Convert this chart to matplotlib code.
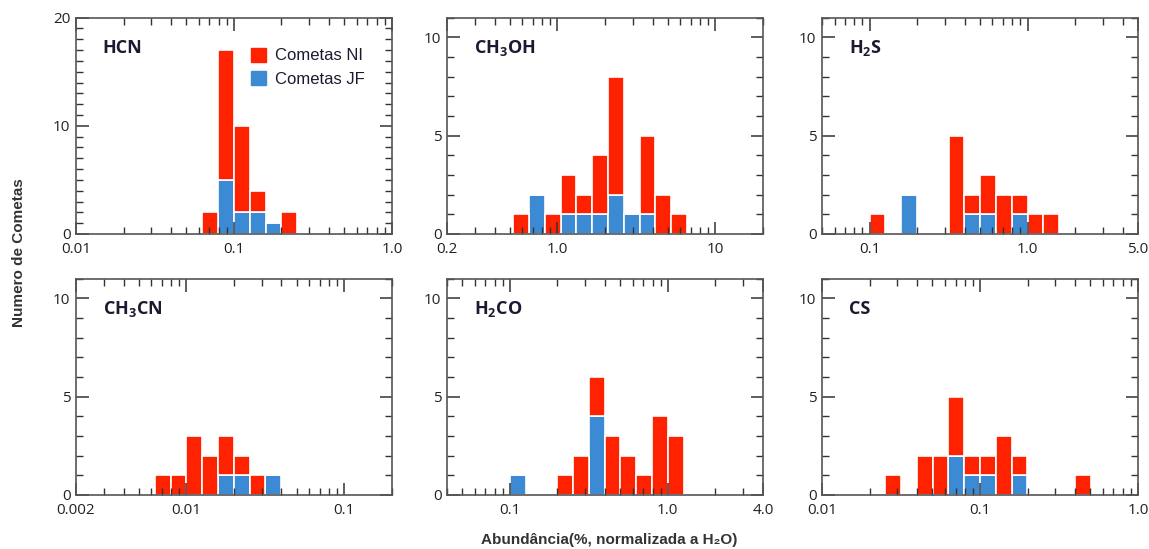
import numpy as np
import matplotlib
matplotlib.use("Agg")
import matplotlib.pyplot as plt
import matplotlib.ticker as ticker
from matplotlib.patches import Patch

plt.rcParams['font.family'] = ['Open Sans', 'DejaVu Sans']
plt.rcParams['mathtext.fontset'] = 'custom'
plt.rcParams['mathtext.rm'] = 'Open Sans:bold'
plt.rcParams['mathtext.it'] = 'Open Sans:bold'
plt.rcParams['mathtext.bf'] = 'Open Sans:bold'

RED = "#ff2200"
BLUE = "#3d8ad4"
EDGE = "#555555"

# bins are 0.1 dex wide, first left edge given as log10
names = ["HCN", "CH$_3$OH", "H$_2$S", "CH$_3$CN", "H$_2$CO", "CS"]
log_start = [-1.2, -0.28, -1.0, -2.2, -1.0, -1.6]

# total counts (NI + JF) and JF counts per bin
total_hcn = [2, 17, 10, 4, 1, 2]
jf_hcn = [0, 5, 2, 2, 1, 0]

total_ch3oh = [1, 2, 1, 3, 2, 4, 8, 1, 5, 2, 1]
jf_ch3oh = [0, 2, 0, 1, 1, 1, 2, 1, 1, 0, 0]

total_h2s = [1, 0, 2, 0, 0, 5, 2, 3, 2, 2, 1, 1]
jf_h2s = [0, 0, 2, 0, 0, 0, 1, 1, 0, 1, 0, 0]

total_ch3cn = [1, 1, 3, 2, 3, 2, 1, 1]
jf_ch3cn = [0, 0, 0, 0, 1, 1, 0, 1]

total_h2co = [1, 0, 0, 1, 2, 6, 3, 2, 1, 4, 3]
jf_h2co = [1, 0, 0, 0, 0, 4, 0, 0, 0, 0, 0]

total_cs = [1, 0, 2, 2, 5, 2, 2, 3, 2, 0, 0, 0, 1]
jf_cs = [0, 0, 0, 0, 2, 1, 1, 0, 1, 0, 0, 0, 0]

totals = [total_hcn, total_ch3oh, total_h2s, total_ch3cn, total_h2co, total_cs]
jfs = [jf_hcn, jf_ch3oh, jf_h2s, jf_ch3cn, jf_h2co, jf_cs]

xlims = [(0.01, 1.0), (0.2, 20), (0.05, 5.0), (0.002, 0.2), (0.04, 4.0), (0.01, 1.0)]
xticks = [[0.01, 0.1, 1.0], [0.2, 1.0, 10], [0.1, 1.0, 5.0],
          [0.002, 0.01, 0.1], [0.1, 1.0, 4.0], [0.01, 0.1, 1.0]]
xticklabels = [["0.01", "0.1", "1.0"], ["0.2", "1.0", "10"], ["0.1", "1.0", "5.0"],
               ["0.002", "0.01", "0.1"], ["0.1", "1.0", "4.0"], ["0.01", "0.1", "1.0"]]
ymax = [20, 11, 11, 11, 11, 11]
yticks = [[0, 10, 20], [0, 5, 10], [0, 5, 10], [0, 5, 10], [0, 5, 10], [0, 5, 10]]

fig = plt.figure(figsize=(11.49, 5.49), dpi=100)
lefts = [0.0661, 0.389, 0.7154]
bottoms = [0.5738, 0.0984]
w, h = 0.275, 0.394

for i in range(6):
    ax = fig.add_axes([lefts[i % 3], bottoms[i // 3], w, h])
    tot = np.array(totals[i])
    jf = np.array(jfs[i])
    ni = tot - jf
    edges = 10 ** (log_start[i] + 0.1 * np.arange(len(tot) + 1))
    widths = np.diff(edges)
    ax.bar(edges[:-1], jf, width=widths, align='edge', color=BLUE,
           edgecolor='white', linewidth=1.2)
    ax.bar(edges[:-1], ni, width=widths, bottom=jf, align='edge', color=RED,
           edgecolor='white', linewidth=1.2)
    ax.set_xscale('log')
    ax.set_xlim(*xlims[i])
    ax.set_ylim(0, ymax[i])
    ax.xaxis.set_major_locator(ticker.FixedLocator(xticks[i]))
    ax.xaxis.set_major_formatter(ticker.FixedFormatter(xticklabels[i]))
    ax.xaxis.set_minor_locator(ticker.LogLocator(base=10, subs=np.arange(2, 10)))
    ax.xaxis.set_minor_formatter(ticker.NullFormatter())
    ax.yaxis.set_major_locator(ticker.FixedLocator(yticks[i]))
    ax.yaxis.set_minor_locator(ticker.MultipleLocator(1))
    ax.tick_params(which='both', direction='in', top=True, right=True,
                   color='#333333', labelsize=11, labelcolor='#222222')
    ax.tick_params(which='major', length=9, width=1.1)
    ax.tick_params(which='minor', length=5, width=1.0)
    ax.tick_params(axis='x', which='major', pad=6)
    ax.tick_params(axis='y', which='major', pad=4)
    for s in ax.spines.values():
        s.set_color(EDGE)
        s.set_linewidth(1.2)
    ax.text(0.085, 0.86, names[i], transform=ax.transAxes, fontsize=13,
            fontweight='bold', color='#1a1a30', va='center', ha='left')
    if i == 0:
        handles = [Patch(color=RED, label='Cometas NI'),
                   Patch(color=BLUE, label='Cometas JF')]
        ax.legend(handles=handles, loc='upper right', bbox_to_anchor=(0.96, 0.93),
                  frameon=False, prop={'family': ['Liberation Sans', 'DejaVu Sans'], 'size': 12},
                  handlelength=0.9, handleheight=0.9, handletextpad=0.5,
                  labelspacing=0.45, labelcolor='#1a1a30')

fig.text(0.0165, 0.54, "Numero de Cometas", rotation=90, ha='center', va='center',
         fontsize=11, fontweight='bold', color='#333333',
         family=['Liberation Sans', 'DejaVu Sans'])
fig.text(0.53, 0.016, "Abundância(%, normalizada a H₂O)", ha='center', va='center',
         fontsize=11, fontweight='bold', color='#333333',
         family=['Liberation Sans', 'DejaVu Sans'])

plt.savefig("out.png", dpi=100)
